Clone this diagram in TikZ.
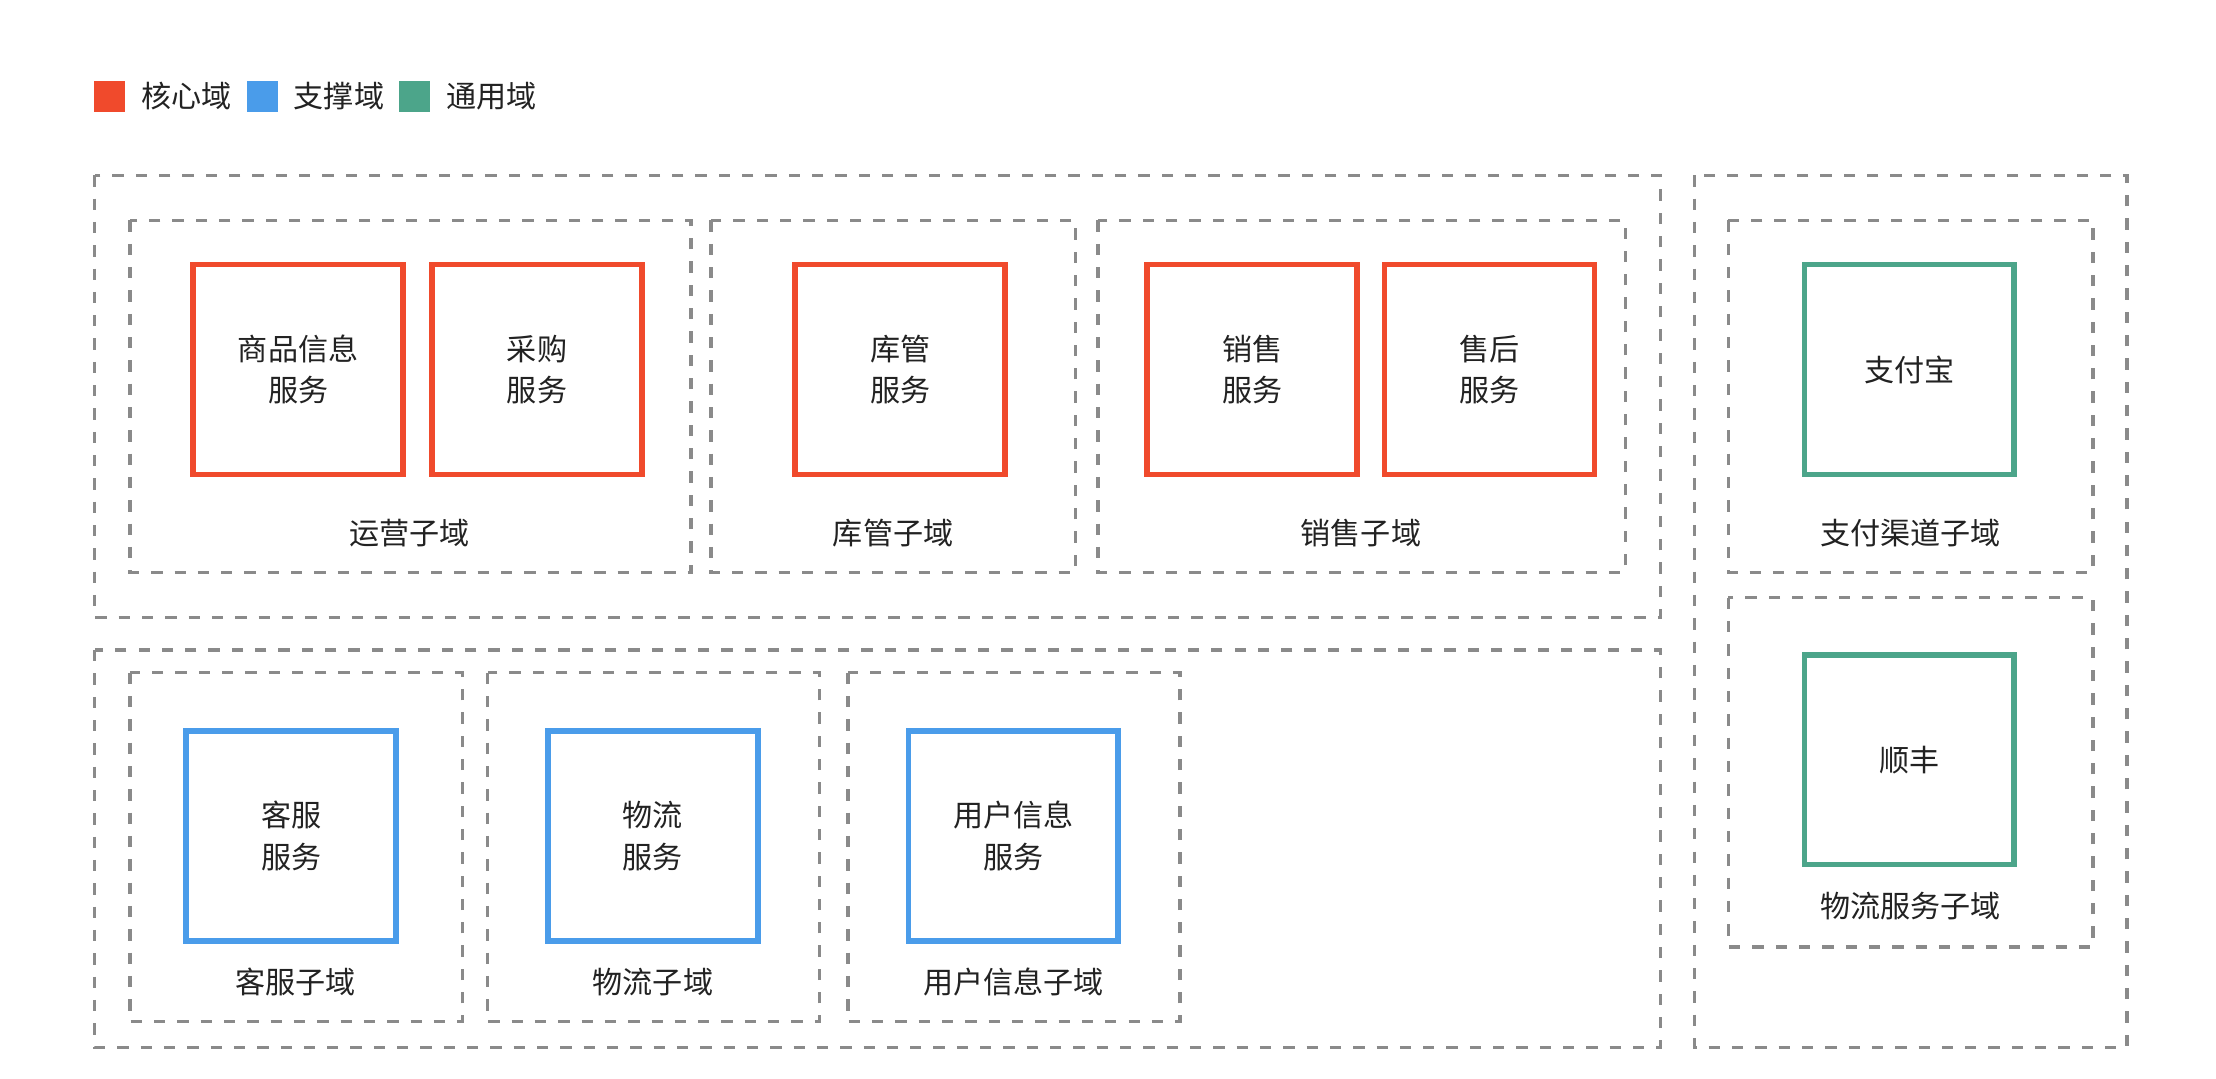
\documentclass[tikz,border=0pt]{standalone}
\usepackage{fontspec}
\setmainfont{Noto Sans CJK SC}
\usepackage{tikz}
\usetikzlibrary{positioning}
\definecolor{coreRed}{HTML}{F04A2C}
\definecolor{supportBlue}{HTML}{4A9CEA}
\definecolor{genericGreen}{HTML}{4CA58A}
\definecolor{frameGray}{HTML}{8A8A8A}
\definecolor{textBlack}{HTML}{222222}

\tikzset{
  svc/.style={draw, line width=4pt, minimum size=148.5pt, inner sep=0pt, align=center,
    font=\fontsize{21.3}{29.5}\selectfont, text=textBlack},
  frame/.style={draw=frameGray, line width=2.3pt, dash pattern=on 8pt off 8.5pt},
  sublabel/.style={inner sep=0pt, font=\fontsize{21.3}{29.5}\selectfont, text=textBlack},
  swatch/.style={minimum size=22pt, inner sep=0pt},
}

\begin{document}
\begin{tikzpicture}[x=1pt,y=-1pt]
  \useasboundingbox (0,0) rectangle (1568,763);
  % legend: swatch, then its text
  \node[swatch, fill=coreRed]   (coreSw) at (77.5,68) {};
  \node[sublabel, right=11pt of coreSw] (coreTxt) {核心域};
  \node[swatch, fill=supportBlue] (supportSw) at (185.5,68) {};
  \node[sublabel, right=11pt of supportSw] (supportTxt) {支撑域};
  \node[swatch, fill=genericGreen] (genericSw) at (293.5,68) {};
  \node[sublabel, right=11pt of genericSw] (genericTxt) {通用域};

  % outer frames: (x,y) rectangle (x,y)
  \draw[frame] (67,124) rectangle (1175,437);
  \draw[frame] (67,460) rectangle (1175,741);
  \draw[frame](1199,124) rectangle (1505,741);

  % sub-domain frames
  \draw[frame] (92,156) rectangle (489,405);
  \draw[frame] (503,156) rectangle (761,405);
  \draw[frame] (777,156) rectangle (1150,405);
  \draw[frame] (1223,156) rectangle (1481,405);
  \draw[frame] (1223,423) rectangle (1481,670);
  \draw[frame] (92,476) rectangle (327,723);
  \draw[frame] (345,476) rectangle (580,723);
  \draw[frame] (600,476) rectangle (835,723);

  % services
  \node[svc, draw=coreRed] (goodsSvc) at (211,261.5) {商品信息\\服务};
  \node[svc, draw=coreRed] (purchaseSvc) at (380,261.5) {采购\\服务};
  \node[svc, draw=coreRed] (stockSvc) at (637,261.5) {库管\\服务};
  \node[svc, draw=coreRed] (salesSvc) at (886,261.5) {销售\\服务};
  \node[svc, draw=coreRed] (afterSvc) at (1054,261.5) {售后\\服务};
  \node[svc, draw=genericGreen] (alipaySvc) at (1351,261.5) {支付宝};
  \node[svc, draw=genericGreen] (sfSvc) at (1351,537.5) {顺丰};
  \node[svc, draw=supportBlue] (csSvc) at (206,591.5) {客服\\服务};
  \node[svc, draw=supportBlue] (shipSvc) at (462,591.5) {物流\\服务};
  \node[svc, draw=supportBlue] (userSvc) at (717,591.5) {用户信息\\服务};

  % sub-domain names
  \node[sublabel] (opsLbl) at (290,377) {运营子域};
  \node[sublabel] (stockLbl) at (632,377) {库管子域};
  \node[sublabel] (salesLbl) at (963,377) {销售子域};
  \node[sublabel] (payLbl) at (1352,377) {支付渠道子域};
  \node[sublabel] (shipSvcLbl) at (1352,641) {物流服务子域};
  \node[sublabel] (csLbl) at (209,695) {客服子域};
  \node[sublabel] (shipLbl) at (462,695) {物流子域};
  \node[sublabel] (userLbl) at (717,695) {用户信息子域};
\end{tikzpicture}
\end{document}
